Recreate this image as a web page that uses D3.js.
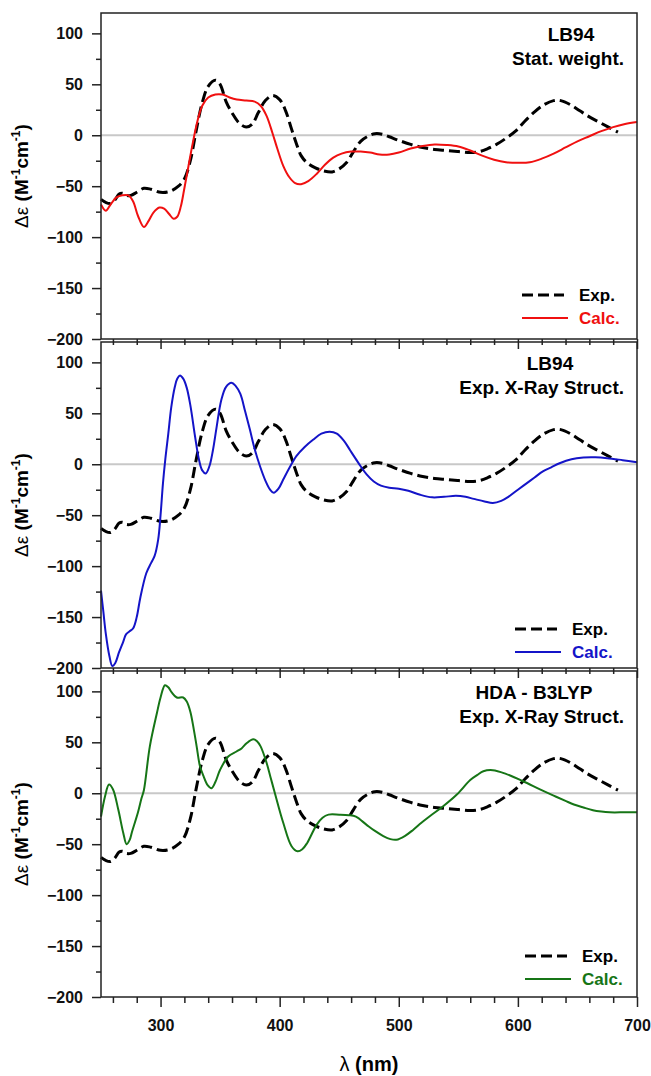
<html>
<head>
<meta charset="utf-8">
<title>CD spectra</title>
<script src="https://d3js.org/d3.v7.min.js"></script>
<style>
body { margin: 0; background: #fff; }
text { font-family: "Liberation Sans", Arial, sans-serif; font-weight: bold; }
.axis path.domain { display: none; }
.axis line { stroke: #222; stroke-width: 1.5px; }
.axis text { font-size: 16px; fill: #111; }
.frame { fill: none; stroke: #222; stroke-width: 1.5px; }
.zero { stroke: #c8c8c8; stroke-width: 2px; }
.exp { fill: none; stroke: #000; stroke-width: 3px; stroke-dasharray: 11,5; }
.calc { fill: none; stroke-width: 2px; }
</style>
</head>
<body>
<div id="chart"></div>
<script>
// experimental CD spectrum (same in every panel)
var expWl = [250,254,258,262,265,268,271,275,280,286,292,300,308,315,320,325,330,335,340,346,350,355,360,366,372,377,382,388,394,400,405,410,414,418,423,430,437,444,450,456,462,468,474,480,486,492,500,510,520,530,540,550,560,568,575,582,590,598,606,614,622,630,636,644,652,660,668,676,684];
var expDe = [-63,-66,-67,-63,-58,-57,-59,-59,-56,-52,-53,-56,-55,-50,-43,-25,5,32,48,54,50,33,22,12,8,11,22,34,39,35,24,6,-8,-20,-27,-32,-35,-36,-33,-27,-16,-6,-1,1.5,1,-1.5,-5,-9,-12,-14,-15,-16,-17,-16,-13,-9,-3,4,14,23,30,34,34,30,24,18,13,8,3];

// LB94, statistical weight
var lb94StatWl = [250,254,258,263,268,273,277,281,286,290,294,299,303,307,311,314,317,320,323,327,331,335,340,346,352,358,364,372,379,384,389,394,398,403,408,413,418,424,431,438,445,452,460,468,476,484,492,500,510,520,530,540,550,560,570,580,590,600,610,620,630,640,650,660,670,680,690,700];
var lb94StatDe = [-68,-74,-68,-61,-59,-59,-65,-79,-90,-84,-76,-71,-72,-77,-82,-80,-70,-52,-33,-8,14,29,37,40,40,37,35,34,33,29,19,2,-13,-30,-41,-47,-48,-45,-38,-29,-22,-18,-16,-16,-17,-19,-19,-17,-13,-10.5,-9,-9.5,-11,-15,-20,-24,-26.5,-27,-26.5,-23,-18,-12,-6,-1,4,8,11,13];

// LB94, X-ray structure
var lb94XrayWl = [250,252,254,257,259.5,262,265,268.7,271,274,277,280,283,288,292,295,298,300,302,304,306.5,309,312,314,316.3,319,322,325,329,332,335,338,341,344,347,351,355,359.5,363,367,371,375,379,383.5,388,392,395,399,403,408,414,421,428,435,442,448,454,459,464,468,473,479,485,492,500,508,518,528,538,548,556,563,572,579,586,592,600,607,614,621,628,635,645,655,665,675,688,700];
var lb94XrayDe = [-124,-145,-166,-188,-198,-195,-185,-174,-167,-164,-161,-150,-131,-107,-97,-90,-74,-50,-19,5,30,56,76,84,87,84,75,58,27,6,-6,-9,-2,14,36,63,76,80,77,69,52,34,15,-2,-16,-25,-28,-24,-15,-4,8,17,24,30,32,30,23,14,5,-2,-10,-17,-21,-23,-24,-26,-30,-32.5,-32,-31,-32,-34,-36.5,-38,-36,-32,-25,-19,-13,-7,-3,1,5,6.6,6.8,6,4,2];

// HDA - B3LYP, X-ray structure
var hdaWl = [250,253.4,256.7,260,264.5,268.7,271.5,274,276,281,284,286,291,297,300,303.7,306.5,309.4,313.6,319,322,325,328,330.3,333,336,339.5,342.8,346,350,356.8,363.8,368,372.2,377.8,381,384,389,392.5,396,403,410,415,419,423,431,436,441,450,458,464,473,480,487,493,498,505,512,519,526,537,549,560,566,571,579,590,604,619,630,640,647,655,663,670,677,690,700];
var hdaDe = [-23,-3,8.5,4,-16,-39,-50,-46,-38,-19,-5,3,46,79,94,106,104,99,94,94,90,80,62,46,27,17,8,5,11,23,36,41,44,49,53,51,46,30,15,0,-29,-52,-57,-55,-49,-31,-24,-21,-21,-21.5,-23,-31,-37,-42,-45,-45.6,-42,-36,-29,-22.6,-13,-1,13,18,21.6,22.6,19,12,3.6,-2.3,-7.5,-11,-14,-16.7,-18,-18.7,-18.7,-18.7];

var xMajor = [300, 400, 500, 600, 700];
var xMinor = d3.range(260, 700, 20).filter(function(d) { return d % 100 !== 0; });
var yMajor = [-200, -150, -100, -50, 0, 50, 100];
var yMinor = [-175, -125, -75, -25, 25, 75];

var panels = [
  {top: 13, wl: lb94StatWl, de: lb94StatDe, color: "#f01010", l1: "LB94", l2: "Stat. weight.", l1x: 470, legX: 421, legY: 282},
  {top: 342, wl: lb94XrayWl, de: lb94XrayDe, color: "#1414c8", l1: "LB94", l2: "Exp. X-Ray Struct.", l1x: 449, legX: 414, legY: 287},
  {top: 671, wl: hdaWl, de: hdaDe, color: "#167516", l1: "HDA - B3LYP", l2: "Exp. X-Ray Struct.", l1x: 433, legX: 424, legY: 285}
];

var svg = d3.select("#chart").append("svg")
    .attr("width", 651)
    .attr("height", 1076),
    left = 101,
    width = 536,
    height = 326;

var x = d3.scaleLinear().domain([250, 700]).range([0, width]);
var y = d3.scaleLinear().domain([-200, 120]).range([height, 0]);

var line = d3.line()
    .x(function(d) { return x(d[0]); })
    .y(function(d) { return y(d[1]); })
    .curve(d3.curveCatmullRom.alpha(0.5));

var expPts = d3.zip(expWl, expDe);

panels.forEach(function(p, i) {
  var g = svg.append("g")
      .attr("transform", "translate(" + left + "," + p.top + ")");

  g.append("line").attr("class", "zero")
      .attr("x1", 0).attr("x2", width)
      .attr("y1", y(0)).attr("y2", y(0));

  g.append("path").attr("class", "exp").attr("d", line(expPts));
  g.append("path").attr("class", "calc")
      .attr("stroke", p.color)
      .attr("d", line(d3.zip(p.wl, p.de)));

  g.append("rect").attr("class", "frame")
      .attr("width", width).attr("height", height);

  // y axis
  g.append("g").attr("class", "axis")
      .call(d3.axisLeft(y).tickValues(yMajor).tickSize(9).tickPadding(9));
  g.append("g").attr("class", "axis")
      .call(d3.axisLeft(y).tickValues(yMinor).tickSize(5).tickFormat(""));

  // x axis
  var last = i === panels.length - 1;
  g.append("g").attr("class", "axis")
      .attr("transform", "translate(0," + height + ")")
      .call(d3.axisBottom(x).tickValues(xMajor).tickSize(10).tickPadding(13)
        .tickFormat(last ? d3.format("d") : ""));
  g.append("g").attr("class", "axis")
      .attr("transform", "translate(0," + height + ")")
      .call(d3.axisBottom(x).tickValues(xMinor).tickSize(6).tickFormat(""));

  // y title
  var yt = g.append("text")
      .attr("transform", "translate(-73," + (height / 2) + ") rotate(-90)")
      .attr("text-anchor", "middle")
      .attr("font-size", "19px");
  yt.append("tspan").attr("font-weight", "normal").text("\u0394\u03b5");
  yt.append("tspan").text(" (M");
  yt.append("tspan").attr("font-size", "12px").attr("dy", "-8").text("-1");
  yt.append("tspan").attr("dy", "8").text("cm");
  yt.append("tspan").attr("font-size", "12px").attr("dy", "-8").text("-1");
  yt.append("tspan").attr("dy", "8").text(")");

  // panel labels
  g.append("text").attr("x", p.l1x).attr("y", 28)
      .attr("text-anchor", "middle").attr("font-size", "19px").text(p.l1);
  g.append("text").attr("x", 523).attr("y", 52)
      .attr("text-anchor", "end").attr("font-size", "19px").text(p.l2);

  // legend
  var leg = g.append("g").attr("transform", "translate(" + p.legX + "," + p.legY + ")");
  leg.append("line").attr("class", "exp").attr("x1", 0).attr("x2", 42).attr("y1", 0).attr("y2", 0);
  leg.append("line").attr("class", "calc").attr("stroke", p.color)
      .attr("x1", 0).attr("x2", 46).attr("y1", 23).attr("y2", 23);
  leg.append("text").attr("x", 57).attr("y", 6).attr("font-size", "17px").text("Exp.");
  leg.append("text").attr("x", 57).attr("y", 29).attr("font-size", "17px")
      .attr("fill", p.color).text("Calc.");
});

// x title
var xt = svg.append("text")
    .attr("x", left + width / 2).attr("y", 1071)
    .attr("text-anchor", "middle").attr("font-size", "20px");
xt.append("tspan").attr("font-weight", "normal").text("\u03bb");
xt.append("tspan").text(" (nm)");
</script>
</body>
</html>
